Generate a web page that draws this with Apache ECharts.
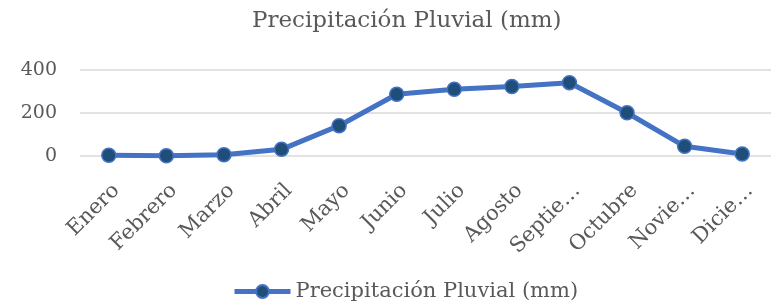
<!DOCTYPE html>
<html>
<head>
<meta charset="utf-8">
<script src="https://cdn.jsdelivr.net/npm/echarts@6/dist/echarts.min.js"></script>
<style>
  html, body { margin: 0; padding: 0; background: #fff; }
  #main { width: 779px; height: 307px; }
</style>
</head>
<body>
<div id="main"></div>
<script>
// meses y etiquetas tal como se ven en el eje
var months = ['Enero', 'Febrero', 'Marzo', 'Abril', 'Mayo', 'Junio', 'Julio', 'Agosto', 'Septiembre', 'Octubre', 'Noviembre', 'Diciembre'];
var tickLabels = ['Enero', 'Febrero', 'Marzo', 'Abril', 'Mayo', 'Junio', 'Julio', 'Agosto', 'Septie…', 'Octubre', 'Novie…', 'Dicie…'];
var rain = [3, 1, 6, 31, 141, 287, 310, 323, 341, 201, 45, 9];
var yTicks = [0, 200, 400];

var serif = '"DejaVu Serif", serif';
var myChart = echarts.init(document.getElementById('main'));
myChart.setOption({
    title: {
        text: 'Precipitación Pluvial (mm)',
        left: 247,
        top: 5,
        textStyle: { fontFamily: serif, fontSize: 23, fontWeight: 'normal', color: '#595959' }
    },
    legend: {
        bottom: 0,
        left: 227,
        itemWidth: 56,
        itemHeight: 16,
        itemGap: 4,
        lineStyle: { width: 5 },
        textStyle: { fontFamily: serif, fontSize: 21, color: '#595959' }
    },
    grid: { left: 80, right: 8, top: 70, height: 86 },
    xAxis: {
        type: 'category',
        data: months,
        axisLine: { show: false },
        axisTick: { show: false },
        axisLabel: {
            rotate: 45,
            interval: 0,
            margin: 24,
            verticalAlign: 'top',
            fontFamily: serif,
            fontSize: 21,
            color: '#595959',
            formatter: function (v, i) { return tickLabels[i]; }
        }
    },
    yAxis: {
        type: 'value',
        min: yTicks[0],
        max: yTicks[yTicks.length - 1],
        interval: 200,
        axisLabel: { fontFamily: serif, fontSize: 19, color: '#595959', margin: 23 },
        splitLine: { lineStyle: { color: '#d9d9d9', width: 1.5 } }
    },
    series: [{
        name: 'Precipitación Pluvial (mm)',
        type: 'line',
        data: rain,
        symbol: 'circle',
        symbolSize: 14,
        lineStyle: { color: '#4472C4', width: 5 },
        itemStyle: { color: '#1F4E79', borderColor: '#4472C4', borderWidth: 1.5 }
    }]
});
</script>
</body>
</html>
